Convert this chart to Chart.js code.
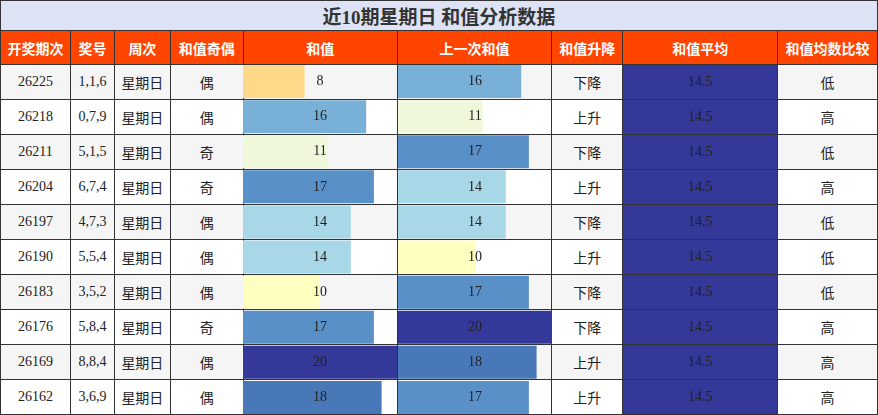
<!DOCTYPE html>
<html><head><meta charset="utf-8">
<script src="https://cdn.jsdelivr.net/npm/chart.js@4"></script>
<style>
body{margin:0;width:878px;height:415px;overflow:hidden;background:#fff;font-family:"Liberation Serif","Noto Sans CJK SC",serif;}
#wrap{position:relative;width:878px;height:415px;}
table{border-collapse:collapse;position:absolute;left:0;top:0;table-layout:fixed;}
td,th{border:1px solid #333;text-align:center;padding:0;font-size:14px;color:#222;}
th{background:#ff4500;color:#fff;font-weight:bold;height:33px;font-size:14px;}
.title{background:#dde3f5;font-size:19px;font-weight:bold;height:29px;color:#333;}
tr.r td{height:34px;}
tr.r:nth-child(odd) td{background:#f5f5f5;}
td.avg{background:#343898 !important;color:#222;}
.cv{position:absolute;}
</style></head><body>
<div id="wrap">
<table id="tbl">
<colgroup><col style="width:70px"><col style="width:44px"><col style="width:56px"><col style="width:73px"><col style="width:154px"><col style="width:155px"><col style="width:71px"><col style="width:155px"><col style="width:100px"></colgroup>
<tr><td colspan="9" class="title">近10期星期日 和值分析数据</td></tr>
<tr><th>开奖期次</th><th>奖号</th><th>周次</th><th>和值奇偶</th><th>和值</th><th>上一次和值</th><th>和值升降</th><th>和值平均</th><th>和值均数比较</th></tr>
</table>
<div class="cv" style="left:243px;top:64px;width:154px;height:351px"><canvas id="c1"></canvas></div>
<div class="cv" style="left:398px;top:64px;width:154px;height:351px"><canvas id="c2"></canvas></div>
</div>
<script>
const issues = ['26225','26218','26211','26204','26197','26190','26183','26176','26169','26162'];
const numbers = ['1,1,6','0,7,9','5,1,5','6,7,4','4,7,3','5,5,4','3,5,2','5,8,4','8,8,4','3,6,9'];
const oddEven = ['偶','偶','奇','奇','偶','偶','偶','奇','偶','偶'];
const sums = [8,16,11,17,14,14,10,17,20,18];
const prevSums = [16,11,17,14,14,10,17,20,18,17];
const trend = ['下降','上升','下降','上升','下降','上升','下降','下降','上升','上升'];
const average = 14.5;
const compare = ['低','高','低','高','低','低','低','高','高','高'];

const palette = {8:'#ffd98a',10:'#ffffc0',11:'#f0f8dc',14:'#a8d8e8',16:'#78b0d8',17:'#5a90c8',18:'#4878b8',20:'#343898'};

const tbl = document.getElementById('tbl');
issues.forEach((iss, i) => {
  const tr = document.createElement('tr');
  tr.className = 'r';
  tr.innerHTML = `<td>${iss}</td><td>${numbers[i]}</td><td>星期日</td><td>${oddEven[i]}</td><td></td><td></td><td>${trend[i]}</td><td class="avg">${average}</td><td>${compare[i]}</td>`;
  tbl.appendChild(tr);
});

const labelPlugin = {
  id: 'cellLabels',
  afterDatasetsDraw(chart) {
    const ctx = chart.ctx;
    const meta = chart.getDatasetMeta(0);
    const area = chart.chartArea;
    ctx.save();
    ctx.font = '14px "Liberation Serif", serif';
    ctx.fillStyle = '#222';
    ctx.textAlign = 'center';
    ctx.textBaseline = 'middle';
    meta.data.forEach((bar, i) => {
      ctx.fillText(chart.data.datasets[0].data[i], (area.left + area.right) / 2, bar.y);
    });
    ctx.restore();
  }
};

function barChart(id, values) {
  new Chart(document.getElementById(id), {
    type: 'bar',
    data: {
      labels: issues,
      datasets: [{
        data: values,
        backgroundColor: values.map(v => palette[v]),
        barPercentage: 0.94,
        categoryPercentage: 1
      }]
    },
    options: {
      indexAxis: 'y',
      responsive: true,
      maintainAspectRatio: false,
      animation: false,
      layout: { padding: 0 },
      plugins: { legend: { display: false }, tooltip: { enabled: false } },
      scales: {
        x: { min: 0, max: 20, display: false },
        y: { display: false }
      }
    },
    plugins: [labelPlugin]
  });
}
barChart('c1', sums);
barChart('c2', prevSums);
</script>
</body></html>
